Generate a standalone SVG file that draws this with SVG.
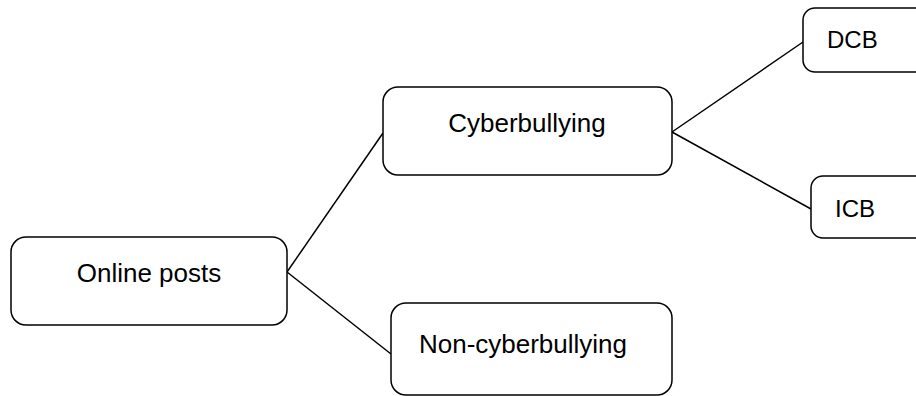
<svg xmlns="http://www.w3.org/2000/svg" width="916" height="396" viewBox="0 0 916 396">
<style>
.box{fill:#fff;stroke:#000;stroke-width:1.5}
.lbl{font-family:"Liberation Sans",Arial,sans-serif;font-size:26px;fill:#000}
.sm{font-size:24px}
.con{stroke:#000;stroke-width:1.5;fill:none}
</style>
<rect width="916" height="396" fill="#fff"/>
<g id="connectors">
<line class="con" x1="287" y1="272" x2="383" y2="133"/>
<line class="con" x1="287" y1="272" x2="391" y2="354"/>
<line class="con" x1="672" y1="132" x2="803" y2="42"/>
<line class="con" x1="672" y1="132" x2="811" y2="209"/>
</g>
<g id="online-posts">
<rect class="box" x="11" y="237" width="276" height="88" rx="15"/>
<text class="lbl" x="149" y="282" text-anchor="middle">Online posts</text>
</g>
<g id="cyberbullying">
<rect class="box" x="383" y="87" width="289" height="88" rx="15"/>
<text class="lbl" x="527" y="132" text-anchor="middle">Cyberbullying</text>
</g>
<g id="non-cyberbullying">
<rect class="box" x="391" y="303" width="281" height="92" rx="15"/>
<text class="lbl" x="523" y="353" text-anchor="middle">Non-cyberbullying</text>
</g>
<g id="dcb">
<rect class="box" x="803" y="8" width="130" height="64" rx="12"/>
<text class="lbl sm" x="827" y="48">DCB</text>
</g>
<g id="icb">
<rect class="box" x="811" y="176" width="130" height="62" rx="12"/>
<text class="lbl sm" x="835" y="217">ICB</text>
</g>
</svg>
